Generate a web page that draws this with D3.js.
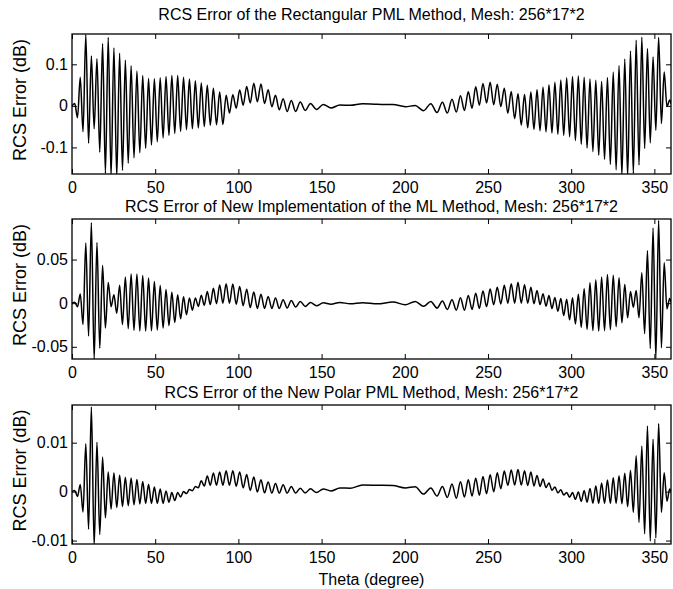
<!DOCTYPE html>
<html>
<head>
<meta charset="utf-8">
<script src="https://cdn.jsdelivr.net/npm/d3@7"></script>
<style>
body { margin: 0; background: #fff; }
text { font-family: "Liberation Sans", Arial, sans-serif; fill: #000; }
</style>
</head>
<body>
<div id="chart-area"></div>
<script>
var canvasWidth = 673
var canvasHeight = 589

// local oscillation period (degrees)
var periodTheta = [0, 20, 40, 60, 80, 100, 110, 120, 130, 140, 150, 160, 170, 180, 190, 200, 210, 220, 230, 240, 250, 260, 280, 300, 320, 340, 360]
var periodDeg   = [3.3, 3.4, 3.5, 3.5, 3.6, 4.2, 4.3, 4.4, 5.0, 6.3, 9, 12, 16, 20, 16, 12, 9, 6.3, 5.0, 4.4, 4.3, 4.2, 3.6, 3.5, 3.5, 3.4, 3.3]

// envelopes (upper / lower) of each error curve
var rectTheta = [0, 3, 6, 8, 10, 13, 16, 19, 22, 25, 28, 32, 36, 40, 45, 50, 56, 62, 68, 76, 84, 91, 95, 99, 103, 107, 111, 115, 120, 125, 130, 136, 142, 149, 158, 170, 182, 198, 205, 210, 215, 222, 227, 232, 237, 241, 245, 249, 254, 258, 262, 267, 271, 279, 289, 299, 305, 313, 319, 325, 331, 335, 340, 343, 347, 351, 353, 355, 357, 360]
var rectUpper = [0, 0.01, 0.10, 0.18, 0.12, 0.12, 0.11, 0.16, 0.165, 0.14, 0.13, 0.11, 0.095, 0.08, 0.066, 0.065, 0.07, 0.075, 0.068, 0.058, 0.045, 0.028, 0.022, 0.034, 0.043, 0.05, 0.058, 0.05, 0.031, 0.019, 0.014, 0.01, 0.006, 0.004, 0.001, 0.005, 0.006, 0.002, 0.001, 0.0, 0.005, 0.008, 0.014, 0.022, 0.03, 0.043, 0.05, 0.058, 0.056, 0.046, 0.038, 0.03, 0.026, 0.038, 0.055, 0.07, 0.072, 0.063, 0.058, 0.08, 0.107, 0.127, 0.165, 0.165, 0.127, 0.11, 0.18, 0.127, 0.026, 0.01]
var rectLower = [0, -0.026, -0.05, -0.09, -0.09, -0.05, -0.098, -0.158, -0.17, -0.17, -0.17, -0.145, -0.13, -0.115, -0.10, -0.09, -0.074, -0.066, -0.058, -0.053, -0.046, -0.045, -0.014, -0.005, 0.002, 0.007, 0.01, 0.007, -0.002, -0.01, -0.014, -0.013, -0.01, -0.008, -0.004, 0.003, 0.004, 0.0, -0.006, -0.01, -0.016, -0.016, -0.018, -0.014, -0.01, -0.005, 0.002, 0.007, 0.002, -0.002, -0.018, -0.034, -0.05, -0.058, -0.066, -0.074, -0.09, -0.11, -0.125, -0.146, -0.17, -0.17, -0.155, -0.106, -0.094, -0.058, -0.082, -0.018, -0.002, 0]

var mlTheta = [0, 3, 6, 8.5, 11, 13.5, 16, 18.5, 21, 24, 27, 31, 36, 41, 46, 51, 57, 63, 69, 75, 81, 89, 95, 101, 109, 117, 127, 137, 147, 157, 180, 205, 213, 221, 229, 237, 245, 253, 261, 268, 275, 283, 291, 299, 305, 311, 317, 323, 329, 335, 338, 344, 347, 350, 352, 355, 357, 360]
var mlUpper = [0, 0.002, 0.015, 0.074, 0.1, 0.069, 0.07, 0.042, 0.03, 0.006, 0.015, 0.029, 0.034, 0.033, 0.029, 0.023, 0.015, 0.01, 0.006, 0.006, 0.013, 0.021, 0.023, 0.019, 0.013, 0.008, 0.004, 0.002, 0.0, 0.001, 0.0005, 0.002, 0.002, 0.002, 0.004, 0.008, 0.013, 0.017, 0.021, 0.024, 0.019, 0.011, 0.006, 0.004, 0.011, 0.023, 0.029, 0.034, 0.029, 0.015, 0.008, 0.044, 0.07, 0.092, 0.1, 0.072, 0.015, 0.002]
var mlLower = [0, -0.002, -0.023, -0.029, -0.044, -0.066, -0.057, -0.038, -0.023, 0.0, -0.012, -0.027, -0.031, -0.032, -0.032, -0.031, -0.027, -0.021, -0.013, -0.004, -0.002, 0.0, 0.0, -0.002, -0.006, -0.006, -0.006, -0.004, -0.003, -0.001, -0.0005, -0.002, -0.004, -0.006, -0.008, -0.008, -0.006, -0.002, 0.0, 0.0, 0.0, -0.002, -0.008, -0.019, -0.027, -0.031, -0.032, -0.031, -0.025, -0.015, -0.002, -0.034, -0.05, -0.061, -0.066, -0.046, -0.008, 0]

var polarTheta = [0, 2, 4, 6, 8.5, 11, 13, 15.5, 18, 21, 24, 31, 37, 43, 49, 55, 61, 67, 73, 77, 83, 89, 95, 101, 109, 117, 127, 137, 147, 160, 180, 194, 202, 206, 214, 222, 230, 238, 246, 254, 262, 268, 276, 284, 290, 298, 306, 314, 322, 330, 336, 340, 343, 346, 349, 351.5, 354, 357, 360]
var polarUpper = [0, 0.0003, 0.001, 0.002, 0.0105, 0.019, 0.0136, 0.0092, 0.0075, 0.004, 0.004, 0.003, 0.0027, 0.002, 0.001, 0.0003, -0.0003, 0.0, 0.0007, 0.002, 0.0037, 0.004, 0.0044, 0.004, 0.003, 0.002, 0.0014, 0.0007, 0.0005, 0.0007, 0.0016, 0.0012, 0.001, 0.001, 0.0007, 0.001, 0.0017, 0.0024, 0.003, 0.0037, 0.0044, 0.0045, 0.004, 0.0024, 0.001, -0.0003, 0.0, 0.001, 0.0024, 0.0034, 0.0044, 0.0082, 0.0095, 0.0136, 0.0099, 0.019, 0.0071, 0.002, 0]
var polarLower = [0, -0.0003, -0.0014, -0.0034, -0.0065, -0.0085, -0.0112, -0.0099, -0.0075, -0.0044, -0.0034, -0.003, -0.0027, -0.0024, -0.0024, -0.0024, -0.002, -0.0007, 0.0003, 0.001, 0.0013, 0.0013, 0.0013, 0.001, 0.0, -0.0003, -0.0003, -0.0003, -0.0002, 0.0003, 0.0014, 0.001, 0.0007, -0.0001, -0.0007, -0.001, -0.0014, -0.001, -0.0007, 0.0, 0.0013, 0.0014, 0.0012, 0.001, 0.0, -0.001, -0.002, -0.0024, -0.0024, -0.0024, -0.0034, -0.0058, -0.0078, -0.0099, -0.0103, -0.0092, -0.0044, -0.0024, 0]

var xTicks = [0, 50, 100, 150, 200, 250, 300, 350]

var panels = [
	{title: "RCS Error of the Rectangular PML Method, Mesh: 256*17*2", theta: rectTheta, upper: rectUpper, lower: rectLower,
	 domain: [-0.164, 0.173], ticks: [-0.1, 0, 0.1], labels: ["-0.1", "0", "0.1"], top: 34, bottom: 174, titleY: 20},
	{title: "RCS Error of New Implementation of the ML Method, Mesh: 256*17*2", theta: mlTheta, upper: mlUpper, lower: mlLower,
	 domain: [-0.064, 0.0965], ticks: [-0.05, 0, 0.05], labels: ["-0.05", "0", "0.05"], top: 219, bottom: 359, titleY: 212},
	{title: "RCS Error of the New Polar PML Method, Mesh: 256*17*2", theta: polarTheta, upper: polarUpper, lower: polarLower,
	 domain: [-0.0107, 0.0177], ticks: [-0.01, 0, 0.01], labels: ["-0.01", "0", "0.01"], top: 405, bottom: 544, titleY: 398}
]

var left = 72, right = 671

var svg = d3.select("#chart-area")
	.append("svg")
	.attr("width", canvasWidth)
	.attr("height", canvasHeight)

var x = d3.scaleLinear().domain([0, 360]).range([left, right])
var period = d3.scaleLinear().domain(periodTheta).range(periodDeg)

// walk along theta, one extremum every half period, alternating lower / upper envelope
function extrema(p) {
	var up = d3.scaleLinear().domain(p.theta).range(p.upper)
	var lo = d3.scaleLinear().domain(p.theta).range(p.lower)
	var pts = [], t = 0, k = 0
	while (t < 360) {
		pts.push([t, k % 2 == 0 ? lo(t) : up(t)])
		t += period(t) / 2
		k++
	}
	pts.push([360, (up(360) + lo(360)) / 2])
	return pts
}

panels.forEach(function(p, i) {
	var y = d3.scaleLinear().domain(p.domain).range([p.bottom, p.top])
	var g = svg.append("g")

	g.append("clipPath").attr("id", "clip" + i)
		.append("rect")
		.attr("x", left).attr("y", p.top)
		.attr("width", right - left).attr("height", p.bottom - p.top)

	var line = d3.line()
		.x(function(d) { return x(d[0]) })
		.y(function(d) { return y(d[1]) })
		.curve(d3.curveMonotoneX)

	g.append("path")
		.datum(extrema(p))
		.attr("clip-path", "url(#clip" + i + ")")
		.attr("fill", "none")
		.attr("stroke", "#000")
		.attr("stroke-width", 1.5)
		.attr("d", line)

	g.append("rect")
		.attr("x", left).attr("y", p.top)
		.attr("width", right - left).attr("height", p.bottom - p.top)
		.attr("fill", "none").attr("stroke", "#000").attr("stroke-width", 1.3)

	var xb = g.append("g").attr("transform", "translate(0," + p.bottom + ")")
		.call(d3.axisBottom(x).tickValues(xTicks).tickSizeInner(-5).tickSizeOuter(0).tickPadding(8))
	var xt = g.append("g").attr("transform", "translate(0," + p.top + ")")
		.call(d3.axisTop(x).tickValues(xTicks).tickSizeInner(-5).tickSizeOuter(0).tickFormat(""))
	var yl = g.append("g").attr("transform", "translate(" + left + ",0)")
		.call(d3.axisLeft(y).tickValues(p.ticks).tickSizeInner(-5).tickSizeOuter(0).tickPadding(4)
			.tickFormat(function(d, j) { return p.labels[j] }))
	var yr = g.append("g").attr("transform", "translate(" + right + ",0)")
		.call(d3.axisRight(y).tickValues(p.ticks).tickSizeInner(-5).tickSizeOuter(0).tickFormat(""))

	;[xb, xt, yl, yr].forEach(function(a) {
		a.select(".domain").remove()
		a.selectAll("line").attr("stroke", "#000").attr("stroke-width", 1)
		a.selectAll("text").attr("font-size", "16px").attr("fill", "#000")
			.style("font-family", "'Liberation Sans', Arial, sans-serif")
	})

	g.append("text")
		.attr("x", (left + right) / 2)
		.attr("y", p.titleY)
		.attr("text-anchor", "middle")
		.attr("font-size", "16px")
		.text(p.title)

	g.append("text")
		.attr("transform", "translate(26," + ((p.top + p.bottom) / 2 - 4) + ") rotate(-90)")
		.attr("text-anchor", "middle")
		.attr("font-size", "18px")
		.text("RCS Error (dB)")
})

svg.append("text")
	.attr("x", (left + right) / 2)
	.attr("y", 585)
	.attr("text-anchor", "middle")
	.attr("font-size", "16px")
	.text("Theta (degree)")
</script>
</body>
</html>
